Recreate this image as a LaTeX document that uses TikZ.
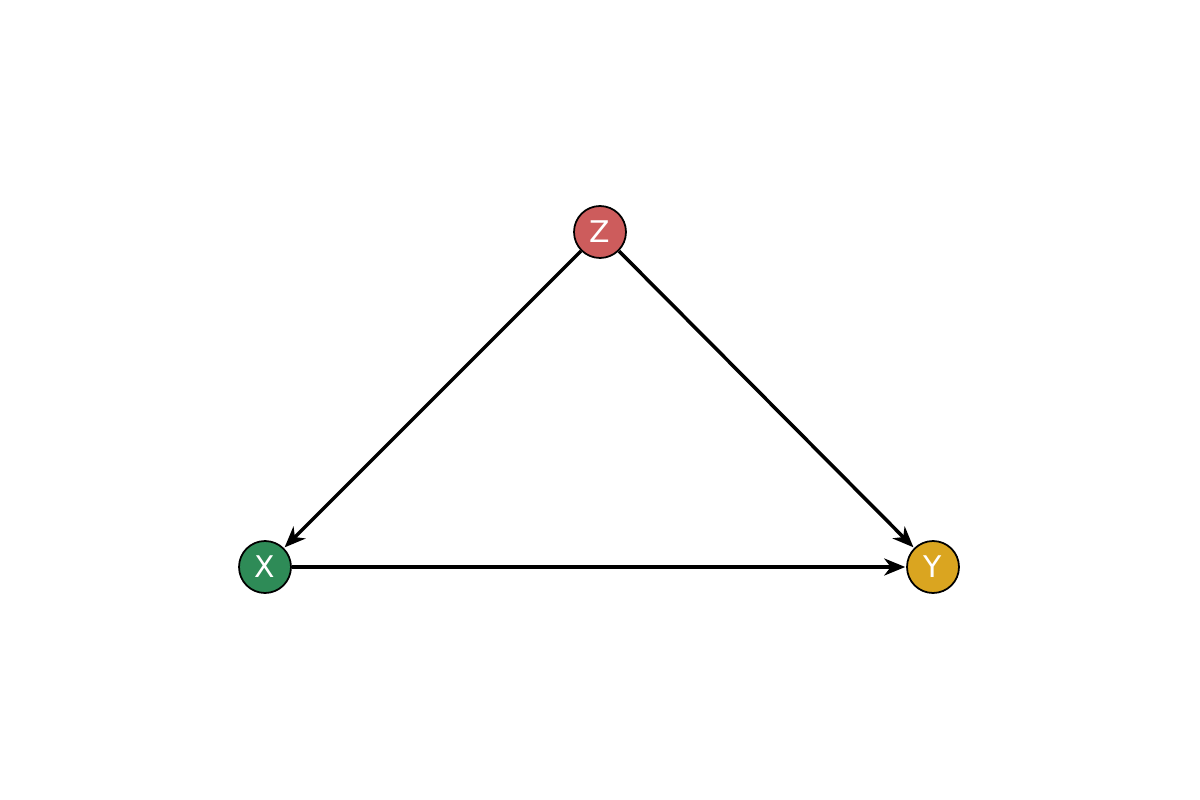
\documentclass[tikz,border=0pt]{standalone}
\usepackage{fontspec}
\setsansfont{DejaVu Sans}
\usetikzlibrary{arrows.meta}
\definecolor{zred}{HTML}{CD5C5C}
\definecolor{xgreen}{HTML}{2E8B57}
\definecolor{ygold}{HTML}{DAA520}
\begin{document}
\begin{tikzpicture}[x=0.02cm,y=-0.02cm,
    var/.style={circle, draw=black, line width=1pt, minimum size=1.04cm, inner sep=0pt,
      text=white, font=\sffamily\fontsize{17}{17}\selectfont},
    edge/.style={-{Stealth[length=0.42cm,width=0.34cm,inset=0.13cm]}, line width=2pt, shorten >=0.5pt}]
    \useasboundingbox (0,0) rectangle (1200,800);

    % Variables.
    \node [var, fill=zred]   (Z) at (600,232) {Z};
    \node [var, fill=xgreen] (X) at (265,567) {X};
    \node [var, fill=ygold]  (Y) at (933,567) {Y};

    % Edges.
    \draw [edge] (Z) -- (X);
    \draw [edge] (Z) -- (Y);
    \draw [edge] (X) -- (Y);
  \end{tikzpicture}
\end{document}
